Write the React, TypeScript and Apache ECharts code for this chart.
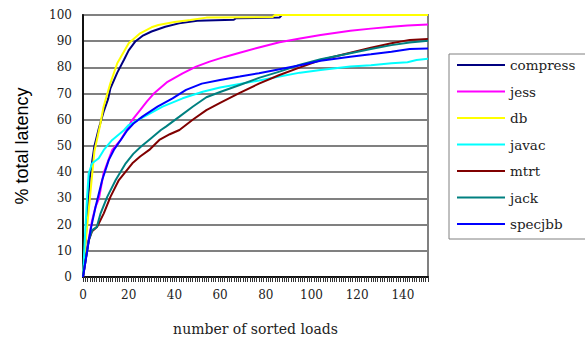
import React, { useEffect, useRef } from "react";
import * as echarts from "echarts";

const seriesNames = ["compress", "jess", "db", "javac", "mtrt", "jack", "specjbb"];
const seriesColors = ["#000080", "#ff00ff", "#ffff00", "#00ffff", "#800000", "#008080", "#0000ff"];

const compress = [[0,0],[2,25],[3,38],[5,50],[7,57],[9,63],[11,68],[12,72],[15,78],[18,83],[20,86.5],[23,90],[26,92],[30,93.7],[36,95.5],[42,96.8],[50,97.8],[66,98.2],[67,98.8],[86,99],[87,100],[151,100]];
const jess = [[0,0],[2,12],[4,21.7],[5.5,26.8],[7,30],[9,39.6],[10.6,43.4],[12.8,48.5],[16.5,52.3],[19,56],[21.6,60],[25,63.7],[28,67],[31,70],[37,74.5],[43.6,77.7],[49.5,80.3],[55.4,82.2],[62,84],[68.6,85.6],[77,87.6],[86,89.6],[95,91],[104,92.4],[117,94],[126,94.8],[135,95.5],[142,96],[151,96.4]];
const db = [[0,0],[1,12],[3,30],[5,48],[6.5,54],[7.5,58],[9,65],[12,74],[15,81.6],[20,89.2],[25,93],[30,95.3],[33,96.2],[40,97.3],[47,98.1],[54,99],[83,99.2],[84,100],[151,100]];
const javac = [[0,0],[1,17.9],[1.8,30.6],[2.5,39.6],[4,43.4],[6.9,45.3],[9.1,48.5],[12.8,52.3],[17.9,56],[20,58],[26.8,61.2],[34.8,65],[43.6,68.2],[52.4,70.7],[60,72.3],[68.6,73.7],[77,75],[86,76.5],[95,78],[104,79],[117,80.3],[126,80.8],[135,81.6],[142,82],[146,82.8],[151,83.3]];
const mtrt = [[0,0],[2.5,14],[4,17.5],[6.2,19.2],[9.1,24.3],[12,30.6],[15.7,37],[21.6,43.4],[25,46],[29,48.5],[33.4,52.3],[38,54.5],[42.2,56.1],[48,60],[54,63.7],[60,66.5],[68.6,70.3],[77,73.8],[86,77.1],[95,80],[104,82.8],[117,85.6],[126,87.5],[135,89.2],[143,90.5],[151,90.8]];
const jack = [[0,0],[2.5,14],[4,17.9],[6,19],[7.7,24.3],[10.6,30.6],[14.3,37],[18.7,43.4],[22,47],[25.3,49.7],[29.7,52.9],[34.1,56.1],[36.3,57.4],[42.2,61.2],[48,65],[54,68.6],[60,70.6],[68.6,73.3],[77,76],[86,78.4],[95,81],[104,83.1],[117,85.4],[126,87],[135,88.5],[143,89.5],[151,90.2]];
const specjbb = [[0,0],[3.3,17.9],[5.5,26.8],[8.4,37],[11.3,44.7],[13.5,48.5],[16.5,52.3],[19.4,56],[22,58.5],[26,61.2],[32.6,65],[39.2,68.2],[45.1,71.4],[52,73.8],[60,75.2],[68.6,76.5],[77,77.8],[86,79.3],[95,80.8],[104,82.5],[117,84.1],[126,85],[135,86],[143,87],[151,87.2]];

const seriesData = [compress, jess, db, javac, mtrt, jack, specjbb];

const xTitle = "number of sorted loads";
const yTitle = "% total latency";

export default function App() {
  const ref = useRef<HTMLDivElement>(null);
  useEffect(() => {
    document.body.style.margin = "0";
    const chart = echarts.init(ref.current!, null, { renderer: "svg" });
    const serif = "DejaVu Serif";
    chart.setOption({
      animation: false,
      backgroundColor: "#ffffff",
      grid: {
        left: 83,
        top: 15,
        width: 345,
        height: 262,
        show: true,
        borderColor: "#808080",
        borderWidth: 2,
      },
      legend: {
        orient: "vertical",
        left: 449,
        top: 54,
        padding: [4, 12, 8, 8],
        itemGap: 12.5,
        itemWidth: 48,
        itemHeight: 2,
        icon: "rect",
        borderColor: "#808080",
        borderWidth: 1,
        data: seriesNames,
        textStyle: { fontFamily: serif, fontSize: 13.5, lineHeight: 14, color: "#222" },
      },
      xAxis: {
        type: "value",
        min: 0,
        max: 151,
        interval: 20,
        name: xTitle,
        nameLocation: "middle",
        nameGap: 45,
        nameTextStyle: { fontFamily: serif, fontSize: 14, color: "#222" },
        axisLine: { show: true, onZero: false, lineStyle: { color: "#111", width: 2 } },
        axisTick: { show: true, length: 5, lineStyle: { color: "#333" } },
        minorTick: { show: true, splitNumber: 20, length: 5, lineStyle: { color: "#333" } },
        splitLine: { show: false },
        axisLabel: {
          margin: 12,
          fontFamily: serif,
          fontSize: 12,
          color: "#222",
          showMaxLabel: false,
        },
      },
      yAxis: {
        type: "value",
        min: 0,
        max: 100,
        interval: 10,
        name: yTitle,
        nameLocation: "middle",
        nameGap: 52,
        nameTextStyle: { fontFamily: "Liberation Sans", fontSize: 18, color: "#000" },
        axisLine: { show: true, lineStyle: { color: "#111", width: 2 } },
        axisTick: { show: false },
        splitLine: { show: true, lineStyle: { color: "#808080", width: 2 } },
        axisLabel: {
          margin: 11,
          fontFamily: serif,
          fontSize: 12,
          color: "#222",
        },
      },
      series: seriesNames.map((name, i) => ({
        name,
        type: "line",
        data: seriesData[i],
        symbol: "none",
        lineStyle: { color: seriesColors[i], width: 2 },
        itemStyle: { color: seriesColors[i] },
      })),
    });
    return () => chart.dispose();
  }, []);
  return <div ref={ref} style={{ width: 585, height: 343 }} />;
}
